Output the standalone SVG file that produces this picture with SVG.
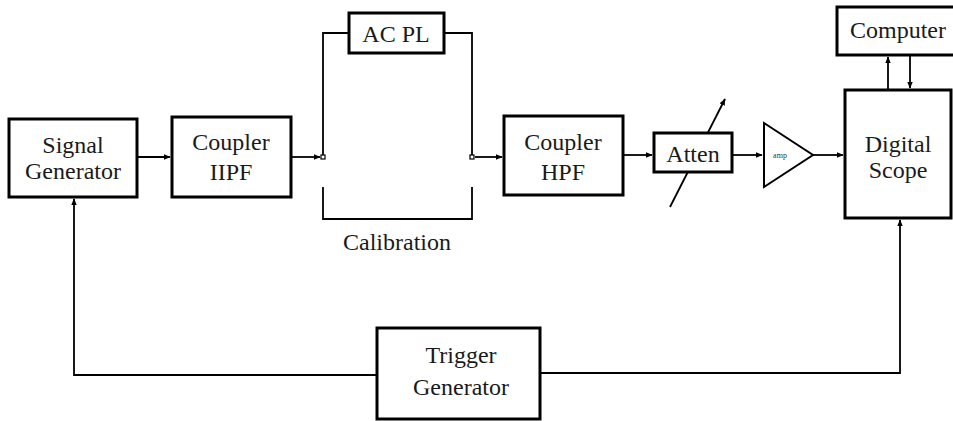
<svg xmlns="http://www.w3.org/2000/svg" width="953" height="421" viewBox="0 0 953 421">
<defs>
<marker id="ah" viewBox="0 0 10 10" refX="9" refY="5" markerWidth="7" markerHeight="7" markerUnits="userSpaceOnUse" orient="auto">
<path d="M0,1 L10,5 L0,9 z" fill="#000"/>
</marker>
</defs>
<style>
.box{fill:#fff;stroke:#000;stroke-width:3}
.ln{fill:none;stroke:#000;stroke-width:1.8}
.t{font-family:"Liberation Serif","Times New Roman",serif;font-size:24px;fill:#1a1a1a;text-anchor:middle}
.term{fill:#fff;stroke:#000;stroke-width:1.2}
</style>
<rect width="953" height="421" fill="#fff"/>
<g id="connectors">
<line class="ln" x1="137" y1="157" x2="170" y2="157" marker-end="url(#ah)"/>
<line class="ln" x1="291" y1="157" x2="320" y2="157" marker-end="url(#ah)"/>
<polyline class="ln" points="323,155 323,33 349,33"/>
<polyline class="ln" points="444,33 472,33 472,155"/>
<polyline class="ln" points="323,187 323,219 472,219 472,187"/>
<line class="ln" x1="475" y1="157" x2="502" y2="157" marker-end="url(#ah)"/>
<line class="ln" x1="623" y1="155" x2="652" y2="155" marker-end="url(#ah)"/>
<line class="ln" x1="670" y1="207" x2="725" y2="99" marker-end="url(#ah)"/>
<line class="ln" x1="732" y1="155" x2="762" y2="155" marker-end="url(#ah)"/>
<line class="ln" x1="813" y1="155" x2="843" y2="155" marker-end="url(#ah)"/>
<line class="ln" x1="888" y1="90" x2="888" y2="57" marker-end="url(#ah)"/>
<line class="ln" x1="910" y1="55" x2="910" y2="88" marker-end="url(#ah)"/>
<polyline class="ln" points="377,375 74,375 74,199" marker-end="url(#ah)"/>
<polyline class="ln" points="540,373 900,373 900,220" marker-end="url(#ah)"/>
<rect class="term" x="321" y="155" width="4" height="4"/>
<rect class="term" x="470" y="155" width="4" height="4"/>
</g>
<g id="signal-generator">
<rect class="box" x="9" y="119" width="128" height="78"/>
<text class="t" x="73" y="153">Signal</text>
<text class="t" x="73" y="179">Generator</text>
</g>
<g id="coupler-iipf">
<rect class="box" x="172" y="117" width="119" height="80"/>
<text class="t" x="231" y="150">Coupler</text>
<text class="t" x="231" y="180">IIPF</text>
</g>
<g id="ac-pl">
<rect class="box" x="349" y="13" width="95" height="40"/>
<text class="t" x="396" y="42">AC PL</text>
</g>
<g id="calibration">
<text class="t" x="397" y="250">Calibration</text>
</g>
<g id="coupler-hpf">
<rect class="box" x="504" y="116" width="119" height="79"/>
<text class="t" x="563" y="150">Coupler</text>
<text class="t" x="563" y="180">HPF</text>
</g>
<g id="atten">
<rect class="box" x="654" y="133" width="78" height="39"/>
<text class="t" x="693" y="162">Atten</text>
</g>
<g id="amp">
<polygon points="764,123 813,155 764,187" fill="#fff" stroke="#000" stroke-width="2"/>
<text x="780" y="158" font-family="Liberation Serif, serif" font-size="8" text-anchor="middle" fill="#333">amp</text>
</g>
<g id="computer">
<rect class="box" x="837" y="7" width="120" height="48"/>
<text class="t" x="898" y="38">Computer</text>
</g>
<g id="digital-scope">
<rect class="box" x="845" y="90" width="106" height="128"/>
<text class="t" x="898" y="152">Digital</text>
<text class="t" x="898" y="178">Scope</text>
</g>
<g id="trigger-generator">
<rect class="box" x="377" y="328" width="163" height="91"/>
<text class="t" x="461" y="363">Trigger</text>
<text class="t" x="461" y="395">Generator</text>
</g>
</svg>
